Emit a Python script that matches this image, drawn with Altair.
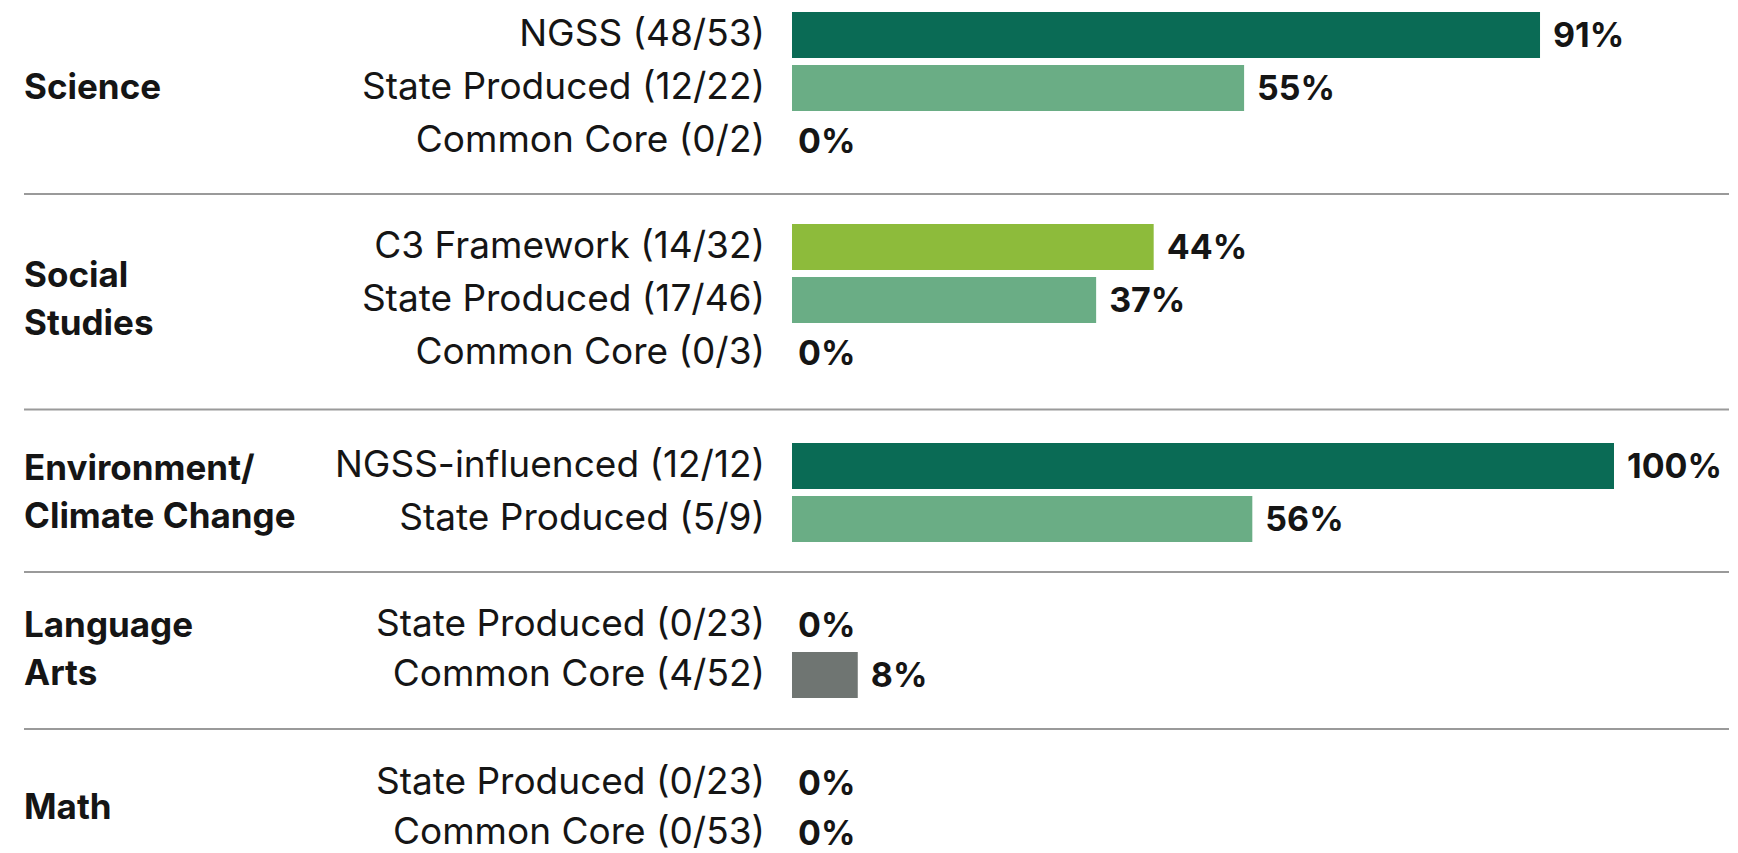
import altair as alt
import pandas as pd

# ---- data ----
group_names = ["Science", "Social\nStudies", "Environment/\nClimate Change", "Language\nArts", "Math"]
row_group = [0, 0, 0, 1, 1, 1, 2, 2, 3, 3, 4, 4]
standards = [
    "NGSS (48/53)", "State Produced (12/22)", "Common Core (0/2)",
    "C3 Framework (14/32)", "State Produced (17/46)", "Common Core (0/3)",
    "NGSS-influenced (12/12)", "State Produced (5/9)",
    "State Produced (0/23)", "Common Core (4/52)",
    "State Produced (0/23)", "Common Core (0/53)",
]
percent = [91, 55, 0, 44, 37, 0, 100, 56, 0, 8, 0, 0]
kind = ["NGSS", "State", "Common Core", "C3", "State", "Common Core",
        "NGSS", "State", "State", "Common Core", "State", "Common Core"]

kind_domain = ["NGSS", "State", "C3", "Common Core"]
kind_colors = ["#0a6b55", "#6aad85", "#8dbb3b", "#6f7572"]

# ---- layout (pixels) ----
FONT = "Inter"
W, H = 822, 845
TOP = 27
GROUP_ROW_STEP = [53, 53, 53, 50, 50]   # spacing of rows inside each group
GROUP_SPACING = [106, 113, 106, 108]    # last row of a group -> first row of next
BAR_H = 46
LEFT_PAD = 784
LINE_H = 48

centers = []
cur = TOP
prev_g = None
for g in row_group:
    if prev_g is None:
        pass
    elif g == prev_g:
        cur += GROUP_ROW_STEP[g]
    else:
        cur += GROUP_SPACING[prev_g]
    centers.append(cur)
    prev_g = g

rows = pd.DataFrame({
    "standard": standards,
    "pct": percent,
    "kind": kind,
    "yc": centers,
    "y0": [c - BAR_H / 2 for c in centers],
    "y1": [c + BAR_H / 2 for c in centers],
    "label": [f"{p}%" for p in percent],
})

grp = []
for g, name in enumerate(group_names):
    cs = [c for c, rg in zip(centers, row_group) if rg == g]
    mid = sum(cs) / len(cs)
    lines = name.split("\n")
    n = len(lines)
    for k, line in enumerate(lines):
        grp.append({"name": line, "yc": mid + (k - (n - 1) / 2) * LINE_H})
groups = pd.DataFrame(grp)

seps = []
for g in range(len(group_names) - 1):
    last = max(c for c, rg in zip(centers, row_group) if rg == g)
    first = min(c for c, rg in zip(centers, row_group) if rg == g + 1)
    seps.append({"y": (last + first) / 2})
seps = pd.DataFrame(seps)

xs = alt.Scale(domain=[0, 100], range=[0, W])
ys = alt.Scale(domain=[0, H], range=[0, H])

base = alt.Chart(rows)

bars = base.mark_rect().encode(
    x=alt.X("pct:Q", scale=xs, axis=None),
    x2=alt.datum(0),
    y=alt.Y("y0:Q", scale=ys, axis=None),
    y2="y1:Q",
    color=alt.Color("kind:N", scale=alt.Scale(domain=kind_domain, range=kind_colors), legend=None),
)

pct_style = dict(align="left", baseline="middle", dy=2, font=FONT, fontSize=34,
                 fontWeight="bold", color="#151515")
pct_nonzero = base.transform_filter("datum.pct > 0").mark_text(dx=13, **pct_style).encode(
    x=alt.X("pct:Q", scale=xs, axis=None),
    y=alt.Y("yc:Q", scale=ys, axis=None),
    text="label:N",
)
pct_zero = base.transform_filter("datum.pct == 0").mark_text(dx=6, **pct_style).encode(
    x=alt.X("pct:Q", scale=xs, axis=None),
    y=alt.Y("yc:Q", scale=ys, axis=None),
    text="label:N",
)

row_labels = base.mark_text(
    align="right", baseline="middle", font=FONT, fontSize=37, color="#151515"
).encode(
    x=alt.value(-27),
    y=alt.Y("yc:Q", scale=ys, axis=None),
    text="standard:N",
)

group_labels = alt.Chart(groups).mark_text(
    align="left", baseline="middle", font=FONT, fontSize=35, fontWeight="bold", color="#151515"
).encode(
    x=alt.value(-768),
    y=alt.Y("yc:Q", scale=ys, axis=None),
    text="name:N",
)

sep_rules = alt.Chart(seps).mark_rule(color="#9a9a9a", strokeWidth=2).encode(
    x=alt.value(-768),
    x2=alt.value(937),
    y=alt.Y("y:Q", scale=ys, axis=None),
)

chart = alt.layer(sep_rules, bars, pct_nonzero, pct_zero, row_labels, group_labels).properties(
    width=W, height=H,
    autosize=alt.AutoSizeParams(type="none"),
    padding={"left": LEFT_PAD, "top": 0, "right": 116, "bottom": 0},
    background="white",
).configure_view(stroke=None)

chart.save("out.html", embed_options={"renderer": "svg", "actions": False})
